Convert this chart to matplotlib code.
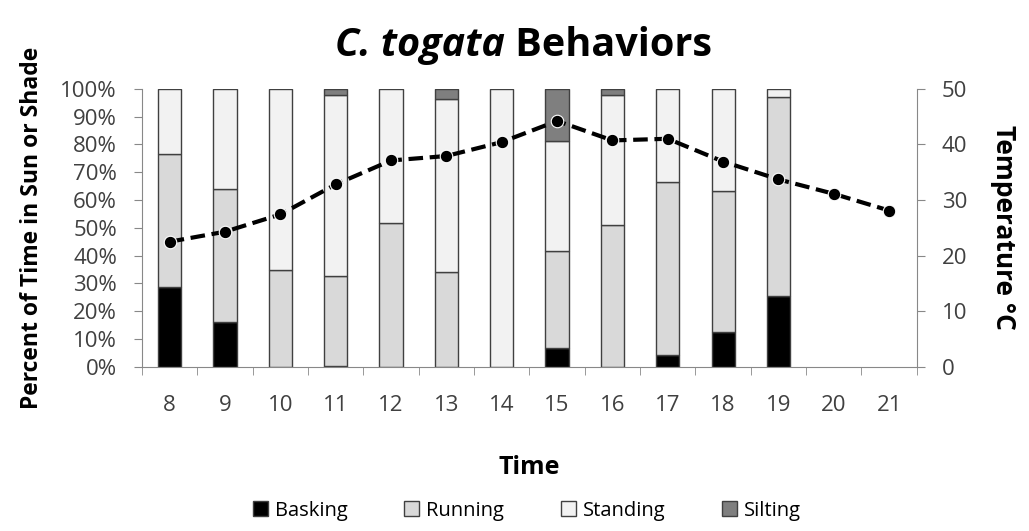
import matplotlib.pyplot as plt
import numpy as np

plt.rcParams['font.family'] = ['Open Sans', 'DejaVu Sans']

hours = [8, 9, 10, 11, 12, 13, 14, 15, 16, 17, 18, 19, 20, 21]
basking = [28.7, 16.0, 0, 0.5, 0, 0, 0, 6.7, 0, 4.3, 12.7, 25.6, 0, 0]
running = [48.0, 48.0, 34.9, 32.2, 51.6, 34.2, 0, 35.1, 51.0, 62.2, 50.7, 71.4, 0, 0]
standing = [23.3, 36.0, 65.1, 65.1, 48.4, 62.2, 100, 39.4, 46.8, 33.5, 36.6, 3.0, 0, 0]
silting = [0, 0, 0, 2.2, 0, 3.6, 0, 18.8, 2.2, 0, 0, 0, 0, 0]
temp = [22.5, 24.3, 27.4, 32.8, 37.1, 37.9, 40.4, 44.2, 40.7, 41.0, 36.9, 33.7, 31.1, 28.1]

fig = plt.figure(figsize=(10.29, 5.31), dpi=100)
ax = fig.add_axes([0.138, 0.309, 0.753, 0.524])
x = np.arange(len(hours))
w = 0.42
edge = '#404040'
tc = '#404040'
bottom = np.zeros(len(hours))
series = [(basking, '#000000', 'Basking'), (running, '#d9d9d9', 'Running'),
          (standing, '#f2f2f2', 'Standing'), (silting, '#7f7f7f', 'Silting')]
handles = []
for vals, col, lab in series:
    vals = np.array(vals)
    nz = vals > 0
    b = ax.bar(x[nz], vals[nz], w, bottom=bottom[nz], color=col, edgecolor=edge,
               linewidth=1.0, label=lab, zorder=2)
    handles.append(b)
    bottom += vals

ax.set_xlim(-0.5, len(hours) - 0.5)
ax.set_ylim(0, 100)
ax.set_yticks(np.arange(0, 101, 10))
ax.set_yticklabels([f'{v}%' for v in range(0, 101, 10)], fontsize=16, color=tc)
ax.set_xticks(x)
ax.set_xticklabels([str(h) for h in hours], fontsize=16, color=tc)
ax.set_xticks(np.arange(-0.5, len(hours)), minor=True)
ax.tick_params(axis='x', which='major', length=0, pad=20)
ax.tick_params(axis='x', which='minor', length=6, color='#888888')
ax.tick_params(axis='y', length=6, color='#888888', pad=12)
for s in ['top', 'right']:
    ax.spines[s].set_visible(False)
for s in ['left', 'bottom']:
    ax.spines[s].set_color('#888888')

ax2 = ax.twinx()
ax2.plot(x, temp, color='black', linestyle=(0, (3.5, 1.6)), linewidth=3,
         marker='o', markersize=9, markeredgecolor='white', markeredgewidth=0.8, zorder=5)
ax2.set_ylim(0, 50)
ax2.set_yticks(np.arange(0, 51, 10))
ax2.tick_params(axis='y', labelsize=16, labelcolor=tc, length=6, color='#888888', pad=12)
for s in ['top', 'left', 'bottom']:
    ax2.spines[s].set_visible(False)
ax2.spines['right'].set_color('#888888')

ax.set_ylabel('Percent of Time in Sun or Shade', fontsize=16.5, fontweight='bold', labelpad=12)
ax2.set_ylabel('Temperature °C', fontsize=19, fontweight='bold', rotation=270, labelpad=36)
ax.set_xlabel('Time', fontsize=18, fontweight='bold', labelpad=28)

fig.text(0.491, 0.915, 'C. togata', fontsize=28.5, fontweight='bold', fontstyle='italic',
         ha='right', va='center')
fig.text(0.491, 0.915, ' Behaviors', fontsize=28.5, fontweight='bold', ha='left', va='center')

fig.legend(handles=handles, loc='lower center', bbox_to_anchor=(0.512, -0.015), ncol=4,
           frameon=False, fontsize=14.5, handlelength=0.75, handleheight=0.75,
           columnspacing=2.8, handletextpad=0.35)

fig.savefig('out.png', dpi=100)
